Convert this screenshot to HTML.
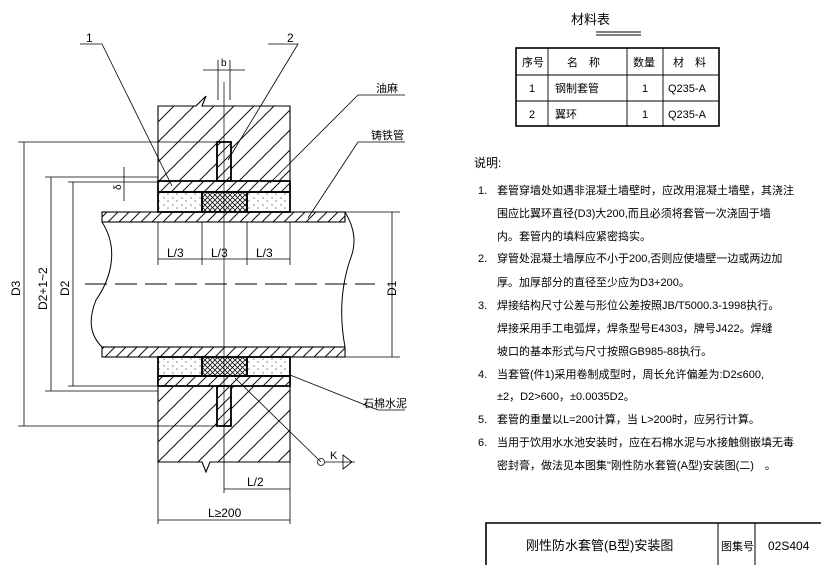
<!DOCTYPE html>
<html><head><meta charset="utf-8"><style>
html,body{margin:0;padding:0;background:#fff;}
svg{display:block;}
text{font-family:"Liberation Sans","Noto Sans CJK SC",sans-serif;fill:#000;}
</style></head><body>
<svg width="821" height="565" viewBox="0 0 821 565" xmlns="http://www.w3.org/2000/svg">
<defs>
<pattern id="h1" patternUnits="userSpaceOnUse" width="20" height="20">
<path d="M-2 22L22 -2M-2 2L2 -2M18 22L22 18" stroke="#111" stroke-width="1"/></pattern>
<pattern id="h2" patternUnits="userSpaceOnUse" width="11" height="11">
<path d="M-1 12L12 -1M-1 1L1 -1M10 12L12 10" stroke="#111" stroke-width="1"/></pattern>
<pattern id="hx" patternUnits="userSpaceOnUse" width="5" height="5">
<path d="M0 0L5 5M5 0L0 5" stroke="#111" stroke-width="0.8"/></pattern>
<pattern id="dots" patternUnits="userSpaceOnUse" width="9" height="7">
<circle cx="2" cy="2" r="0.6" fill="#333"/><circle cx="6" cy="5" r="0.6" fill="#333"/></pattern>
</defs>
<g stroke="#000" fill="none">
<path d="M158 106H196L206 96L202 106H290V181H231V142H217V181H158Z" fill="url(#h1)" stroke-width="1.1"/>
<rect x="217" y="142" width="14" height="39" fill="url(#h2)" stroke-width="1.8"/>
<rect x="158" y="181" width="132" height="11" fill="url(#h2)" stroke-width="1.8"/>
<rect x="158" y="192" width="44" height="20" fill="url(#dots)" stroke-width="1.8"/>
<rect x="202" y="192" width="45" height="20" fill="url(#hx)" stroke-width="1.8"/>
<rect x="247" y="192" width="43" height="20" fill="url(#dots)" stroke-width="1.8"/>
<rect x="102" y="212" width="243" height="10" fill="url(#h2)" stroke-width="1.1"/>
<rect x="102" y="347" width="243" height="10" fill="url(#h2)" stroke-width="1.1"/>
<rect x="158" y="357" width="44" height="19" fill="url(#dots)" stroke-width="1.8"/>
<rect x="202" y="357" width="45" height="19" fill="url(#hx)" stroke-width="1.8"/>
<rect x="247" y="357" width="43" height="19" fill="url(#dots)" stroke-width="1.8"/>
<rect x="158" y="376" width="132" height="10" fill="url(#h2)" stroke-width="1.8"/>
<path d="M158 386H217V426H231V386H290V462H210L206 472L202 462H158Z" fill="url(#h1)" stroke-width="1.1"/>
<rect x="217" y="386" width="14" height="40" fill="url(#h2)" stroke-width="1.8"/>
<path d="M102 222C120 250 110 280 96 300C88 320 90 335 102 347" stroke-width="1"/>
<path d="M345 212C356 230 356 245 350 260C340 290 340 320 345 347" stroke-width="1"/>
<path d="M85 284H375" stroke-dasharray="22 8" stroke-width="0.9"/>
<path d="M224 82V430" stroke-width="0.7"/>
<g stroke-width="0.8">
<path d="M18 142H217M45 177H158M68 182H158M68 386H158M45 391H158M18 426H217"/>
<path d="M24 142V426M51 177V391M73 182V386"/>
<path d="M392 212V357M345 212H400M345 357H400"/>
<path d="M158 222V265M202 222V265M247 222V265M290 222V265M158 259H290"/>
<path d="M224 430V493M290 462V524M158 462V524M224 489H290M158 520H290"/>
<path d="M124 167V201"/>
<path d="M203 70H245M218 60V100M230 60V100"/>
<path d="M80 44H102L172 186M268 44H298L228 160M358 95H405M358 95L270 183M358 142H405M358 142L308 218M378 410H405M378 410L290 375M321 462L235 378"/>
<circle cx="321" cy="462" r="3.5"/>
<path d="M325 462H355M343 455L352 462L343 469Z"/>
</g>
</g>
<g font-size="12">
<text x="86" y="42">1</text><text x="287" y="42">2</text>
<text x="221" y="66" font-size="10">b</text>
<text x="376" y="92" font-size="11">油麻</text>
<text x="371" y="139" font-size="11">铸铁管</text>
<text x="363" y="407" font-size="11">石棉水泥</text>
<text x="330" y="459" font-size="11">K</text>
<text x="167" y="257">L/3</text><text x="211" y="257">L/3</text><text x="256" y="257">L/3</text>
<text x="247" y="486">L/2</text><text x="208" y="517">L≥200</text>
<text transform="translate(20,296) rotate(-90)">D3</text>
<text transform="translate(47,310) rotate(-90)">D2+1~2</text>
<text transform="translate(69,296) rotate(-90)">D2</text>
<text transform="translate(396,296) rotate(-90)">D1</text>
<text transform="translate(121,190) rotate(-90)" font-size="10">δ</text>
</g>
<text x="571" y="24" font-size="13">材料表</text>
<path d="M596 32H641M596 35H641" stroke="#000" stroke-width="1"/>
<g stroke="#000" fill="none">
<rect x="516" y="48" width="203" height="78" stroke-width="1.6"/>
<path d="M516 75H719M516 101H719M548 48V126M627 48V126M663 48V126" stroke-width="0.9"/>
</g>
<g font-size="11">
<text x="522" y="66">序号</text><text x="567" y="66">名　称</text><text x="633" y="66">数量</text><text x="673" y="66">材　料</text>
<text x="529" y="92">1</text><text x="555" y="92">钢制套管</text><text x="642" y="92">1</text><text x="668" y="92">Q235-A</text>
<text x="529" y="118">2</text><text x="555" y="118">翼环</text><text x="642" y="118">1</text><text x="668" y="118">Q235-A</text>
</g>
<g font-size="11">
<text x="474" y="167" font-size="12">说明:</text>
<text x="478" y="194">1.</text><text x="497" y="194">套管穿墙处如遇非混凝土墙壁时，应改用混凝土墙壁，其浇注</text>
<text x="497" y="217">围应比翼环直径(D3)大200,而且必须将套管一次浇固于墙</text>
<text x="497" y="240">内。套管内的填料应紧密捣实。</text>
<text x="478" y="262">2.</text><text x="497" y="262">穿管处混凝土墙厚应不小于200,否则应使墙壁一边或两边加</text>
<text x="497" y="286">厚。加厚部分的直径至少应为D3+200。</text>
<text x="478" y="309">3.</text><text x="497" y="309">焊接结构尺寸公差与形位公差按照JB/T5000.3-1998执行。</text>
<text x="497" y="332">焊接采用手工电弧焊，焊条型号E4303，牌号J422。焊缝</text>
<text x="497" y="355">坡口的基本形式与尺寸按照GB985-88执行。</text>
<text x="478" y="378">4.</text><text x="497" y="378">当套管(件1)采用卷制成型时，周长允许偏差为:D2≤600,</text>
<text x="497" y="400">±2，D2&gt;600，±0.0035D2。</text>
<text x="478" y="423">5.</text><text x="497" y="423">套管的重量以L=200计算，当 L&gt;200时，应另行计算。</text>
<text x="478" y="446">6.</text><text x="497" y="446">当用于饮用水水池安装时，应在石棉水泥与水接触侧嵌填无毒</text>
<text x="497" y="469">密封膏，做法见本图集"刚性防水套管(A型)安装图(二)　。</text>
</g>
<g stroke="#000" fill="none">
<path d="M486 565V523H821" stroke-width="1.6"/>
<path d="M718 523V565M755 523V565" stroke-width="1"/>
</g>
<text x="526" y="550" font-size="13">刚性防水套管(B型)安装图</text>
<text x="721" y="550" font-size="11">图集号</text>
<text x="768" y="550" font-size="12">02S404</text>
</svg>
</body></html>
